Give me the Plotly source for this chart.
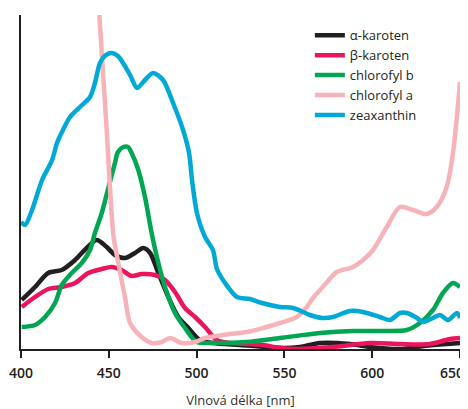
import plotly.graph_objects as go

# wavelength (nm) / absorbance (arbitrary units) per pigment
alpha_nm = [400.4, 408.0, 415.5, 423.2, 430.8, 437.4, 443.1, 448.8, 453.5, 459.2, 464.9, 469.6,
            473.5, 478.2, 483.9, 489.6, 495.3, 501.9, 509.3, 524.7, 549.8, 558.9, 570.3, 587.4,
            598.7, 615.8, 625.5, 634.6, 650.0]
alpha_y = [49, 62, 76, 79, 89, 101, 109, 102, 94, 91, 96, 101,
           96, 76, 52, 32, 21, 9, 6, 4, 1, 2, 6, 5,
           2, 0, 2, 4, 6]

beta_nm = [400.4, 408.0, 415.5, 423.2, 430.8, 438.3, 446.0, 451.7, 457.3, 463.0, 468.7, 476.3,
           482.0, 487.7, 493.4, 499.1, 504.8, 511.4, 519.0, 537.8, 547.5, 557.2, 577.7, 598.7,
           615.8, 632.9, 644.3, 650.0]
beta_y = [42, 52, 60, 62, 66, 76, 80, 82, 79, 73, 75, 74,
          69, 57, 41, 32, 22, 9, 6, 4, 1, 0, 2, 6,
          5, 5, 10, 11]

chlb_nm = [400.4, 408.0, 413.7, 419.4, 423.2, 428.9, 434.6, 439.3, 442.1, 446.0, 449.7, 453.5,
           455.2, 458.3, 460.9, 463.0, 466.8, 470.6, 474.4, 478.2, 482.0, 487.7, 493.4, 500.1,
           509.3, 528.5, 547.5, 570.3, 589.1, 608.3, 619.6, 627.2, 634.6, 640.3, 646.0, 650.0]
chlb_y = [22, 24, 32, 46, 64, 76, 86, 99, 116, 136, 161, 186,
          197, 202, 202, 196, 179, 152, 116, 86, 62, 36, 21, 7,
          6, 7, 11, 16, 18, 18, 19, 26, 39, 56, 66, 62]

chla_nm = [444.6, 448.8, 452.6, 455.4, 459.2, 462.1, 468.7, 474.4, 480.1, 484.9, 491.5, 499.1,
           504.8, 515.0, 528.5, 537.8, 547.5, 557.0, 562.7, 566.3, 570.3, 574.3, 579.8, 589.1,
           594.8, 600.5, 608.3, 615.8, 623.2, 631.0, 636.7, 642.4, 646.0, 650.0]
chla_y = [334, 219, 114, 86, 52, 26, 12, 6, 7, 11, 6, 7,
          11, 14, 17, 21, 26, 32, 42, 51, 59, 67, 77, 82,
          89, 99, 122, 142, 139, 135, 142, 162, 196, 267]

zea_nm = [400.0, 402.3, 406.3, 412.0, 417.7, 420.5, 423.9, 427.9, 433.6, 439.3, 442.1, 445.0,
          448.4, 451.8, 455.2, 458.1, 462.1, 466.1, 470.6, 475.2, 480.9, 486.6, 492.3, 495.7,
          497.4, 500.2, 504.8, 509.3, 511.6, 516.2, 523.0, 530.4, 537.2, 547.5, 554.9, 564.6,
          571.4, 577.7, 587.4, 594.8, 604.4, 610.1, 615.8, 619.8, 625.5, 628.9, 634.6, 638.6,
          643.2, 648.3, 650.0]
zea_y = [127, 124, 139, 169, 189, 206, 219, 232, 242, 252, 266, 286,
         294, 296, 293, 286, 274, 261, 269, 276, 269, 246, 219, 196,
         169, 136, 112, 99, 80, 66, 52, 50, 46, 42, 41, 34,
         31, 32, 38, 37, 32, 29, 36, 36, 31, 27, 31, 34,
         29, 36, 31]

names = ["α-karoten", "β-karoten", "chlorofyl b", "chlorofyl a", "zeaxanthin"]
colors = ["#231f20", "#ec145f", "#00a651", "#f8b3b9", "#00a9d6"]
xs = [alpha_nm, beta_nm, chlb_nm, chla_nm, zea_nm]
ys = [alpha_y, beta_y, chlb_y, chla_y, zea_y]
x_ticks = [400, 450, 500, 550, 600, 650]
x_ticktext = ["400", "450", "500", "550", "600", ""]
last_tick_label = "650"

fig = go.Figure()
for n, c, x, y in zip(names, colors, xs, ys):
    fig.add_trace(go.Scatter(x=x, y=y, name=n, mode="lines",
                             line=dict(color=c, width=4.5, shape="spline", smoothing=0.8),
                             cliponaxis=False))

tick_font = dict(family="Open Sans", size=14, weight=600, color="#231f20")

# the last tick label is right-aligned at its tick so it stays inside the page
fig.add_annotation(x=x_ticks[-1], xref="x", y=0, yref="paper", text=last_tick_label,
                   showarrow=False, xanchor="right", yanchor="middle",
                   xshift=6, yshift=-23, font=tick_font)

# page body has an 8px margin, so the figure is sized to the visible area
fig.update_layout(
    width=460, height=401,
    margin=dict(l=13, r=8, t=7, b=60),
    paper_bgcolor="white", plot_bgcolor="white",
    font=dict(family="Open Sans", color="#231f20"),
    legend=dict(x=0.658, y=0.984, xanchor="left", yanchor="top",
                font=dict(size=13, color="#231f20"), bgcolor="rgba(0,0,0,0)",
                tracegroupgap=0),
    xaxis=dict(range=[400, 650], tickvals=x_ticks, ticktext=x_ticktext,
               automargin=False, ticklabelstandoff=3,
               showgrid=False, zeroline=False, showline=True, linecolor="#231f20", linewidth=2,
               ticks="outside", ticklen=7, tickwidth=2, tickcolor="#231f20",
               tickfont=tick_font,
               title=dict(text="Vlnová délka [nm]", font=dict(size=13, color="#333333"), standoff=16)),
    yaxis=dict(range=[0, 334], showgrid=False, zeroline=False, showline=True, automargin=False,
               linecolor="#231f20", linewidth=2, showticklabels=False, ticks=""),
)

fig.write_html("out.html")
